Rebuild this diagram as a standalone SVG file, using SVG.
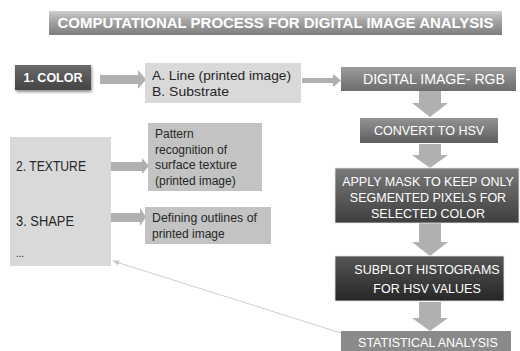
<svg xmlns="http://www.w3.org/2000/svg" width="520" height="351" viewBox="0 0 520 351">
  <defs>
    <linearGradient id="gTitle" x1="0" y1="0" x2="0" y2="1">
      <stop offset="0" stop-color="#cfcfcf"/>
      <stop offset="0.35" stop-color="#a9a9a9"/>
      <stop offset="1" stop-color="#7d7d7d"/>
    </linearGradient>
    <linearGradient id="gDark" x1="0" y1="0" x2="0" y2="1">
      <stop offset="0" stop-color="#6a6a6a"/>
      <stop offset="1" stop-color="#444444"/>
    </linearGradient>
    <linearGradient id="gMid" x1="0" y1="0" x2="0" y2="1">
      <stop offset="0" stop-color="#9c9c9c"/>
      <stop offset="1" stop-color="#6c6c6c"/>
    </linearGradient>
    <linearGradient id="gMid2" x1="0" y1="0" x2="0" y2="1">
      <stop offset="0" stop-color="#939393"/>
      <stop offset="1" stop-color="#5e5e5e"/>
    </linearGradient>
    <linearGradient id="gDeep" x1="0" y1="0" x2="0" y2="1">
      <stop offset="0" stop-color="#7a7a7a"/>
      <stop offset="1" stop-color="#3e3e3e"/>
    </linearGradient>
    <linearGradient id="gDeeper" x1="0" y1="0" x2="0" y2="1">
      <stop offset="0" stop-color="#565656"/>
      <stop offset="1" stop-color="#262626"/>
    </linearGradient>
    <filter id="shadow" x="-20%" y="-30%" width="140%" height="170%">
      <feGaussianBlur in="SourceAlpha" stdDeviation="1.5"/>
      <feOffset dx="1" dy="2" result="b"/>
      <feComponentTransfer><feFuncA type="linear" slope="0.45"/></feComponentTransfer>
      <feMerge><feMergeNode/><feMergeNode in="SourceGraphic"/></feMerge>
    </filter>
    <marker id="thinHead" viewBox="0 0 10 10" refX="9" refY="5" markerWidth="7" markerHeight="7" orient="auto-start-reverse" markerUnits="userSpaceOnUse">
      <path d="M0,1 L10,5 L0,9 Z" fill="#c8c8c8"/>
    </marker>
    <style>
      .wb { font-family: "Liberation Sans", Arial, sans-serif; font-weight: bold; fill: #ffffff; }
      .w  { font-family: "Liberation Sans", Arial, sans-serif; fill: #ffffff; text-anchor: middle; }
      .d  { font-family: "Liberation Sans", Arial, sans-serif; fill: #262626; }
      .arrow { fill: #b0b0b0; }
      .light { fill: #d9d9d9; }
      .grey { fill: #c3c3c3; }
    </style>
  </defs>

  <rect width="520" height="351" fill="#ffffff"/>

  <!-- heading -->
  <g id="title">
    <rect x="49" y="11" width="453" height="24" fill="url(#gTitle)"/>
    <text class="wb" x="275.5" y="28" font-size="14" text-anchor="middle" textLength="436" lengthAdjust="spacingAndGlyphs">COMPUTATIONAL PROCESS FOR DIGITAL IMAGE ANALYSIS</text>
  </g>

  <!-- connectors -->
  <g id="connectors">
    <polygon class="arrow" points="100,75 138,75 138,70 146,79.5 138,89 138,84 100,84"/>
    <polygon class="arrow" points="302,78 333,78 333,74 341,80.5 333,87 333,83 302,83"/>
    <polygon class="arrow" points="419,91 441,91 441,103 448,103 430,117 412,103 419,103"/>
    <polygon class="arrow" points="419,144 441,144 441,155 448,155 430,168 412,155 419,155"/>
    <polygon class="arrow" points="419,223 441,223 441,242 448,242 430,256 412,242 419,242"/>
    <polygon class="arrow" points="419,302 441,302 441,318 448,318 430,331 412,318 419,318"/>
    <polygon class="arrow" points="90,162 142,162 142,158 149,166 142,174 142,171 90,171"/>
    <polygon class="arrow" points="80,213 140,213 140,208 146,217 140,226 140,222 80,222"/>
    <line x1="341" y1="333" x2="113" y2="261" stroke="#cfcfcf" stroke-width="1" marker-end="url(#thinHead)"/>
  </g>

  <g id="color">
    <rect x="15" y="65" width="76" height="25" fill="url(#gDark)" filter="url(#shadow)"/>
    <text class="wb" x="53" y="82" font-size="12.5" text-anchor="middle">1. COLOR</text>
  </g>

  <g id="line-substrate">
    <rect class="light" x="145" y="63" width="156" height="40"/>
    <text class="d" x="152" y="80" font-size="13.5" textLength="139" lengthAdjust="spacingAndGlyphs">A. Line (printed image)</text>
    <text class="d" x="152" y="96" font-size="13.5" textLength="77" lengthAdjust="spacingAndGlyphs">B. Substrate</text>
  </g>

  <g id="features">
    <rect class="light" x="10" y="137" width="101" height="129"/>
    <text class="d" x="16" y="171" font-size="14" textLength="70" lengthAdjust="spacingAndGlyphs">2. TEXTURE</text>
    <text class="d" x="16" y="226" font-size="14" textLength="58" lengthAdjust="spacingAndGlyphs">3. SHAPE</text>
    <text class="d" x="16" y="257" font-size="10">...</text>
  </g>

  <g id="texture-note">
    <rect class="grey" x="148" y="123" width="114" height="68"/>
    <text class="d" x="155" y="138" font-size="12">Pattern</text>
    <text class="d" x="155" y="154" font-size="12">recognition of</text>
    <text class="d" x="155" y="169" font-size="12" textLength="82" lengthAdjust="spacingAndGlyphs">surface texture</text>
    <text class="d" x="155" y="185" font-size="12">(printed image)</text>
  </g>

  <g id="shape-note">
    <rect class="grey" x="145" y="207" width="126" height="37"/>
    <text class="d" x="152" y="222" font-size="12" textLength="105" lengthAdjust="spacingAndGlyphs">Defining outlines of</text>
    <text class="d" x="152" y="238" font-size="12">printed image</text>
  </g>

  <g id="rgb">
    <rect x="341" y="67" width="175" height="24" fill="url(#gMid)"/>
    <text class="w" x="434" y="84" font-size="15" textLength="142" lengthAdjust="spacingAndGlyphs">DIGITAL IMAGE- RGB</text>
  </g>

  <g id="hsv">
    <rect x="360" y="118" width="138" height="25" fill="url(#gMid2)"/>
    <text class="w" x="429" y="135" font-size="12.5">CONVERT TO HSV</text>
  </g>

  <g id="mask">
    <rect x="335" y="168" width="184" height="55" fill="url(#gDeep)" stroke="#e6e6e6" stroke-width="0.8"/>
    <text class="w" x="428" y="186" font-size="12.5">APPLY MASK TO KEEP ONLY</text>
    <text class="w" x="428" y="202" font-size="12.5">SEGMENTED PIXELS FOR</text>
    <text class="w" x="428" y="218" font-size="12.5">SELECTED COLOR</text>
  </g>

  <g id="histograms">
    <rect x="335" y="256" width="169" height="45" fill="url(#gDeeper)" stroke="#e6e6e6" stroke-width="0.8"/>
    <text class="w" x="427" y="274" font-size="12.5">SUBPLOT HISTOGRAMS</text>
    <text class="w" x="427" y="293" font-size="12.5">FOR HSV VALUES</text>
  </g>

  <g id="statistics">
    <rect x="341" y="331" width="170" height="22" fill="#8a8a8a"/>
    <text class="w" x="428" y="347" font-size="12.5">STATISTICAL ANALYSIS</text>
  </g>
</svg>
